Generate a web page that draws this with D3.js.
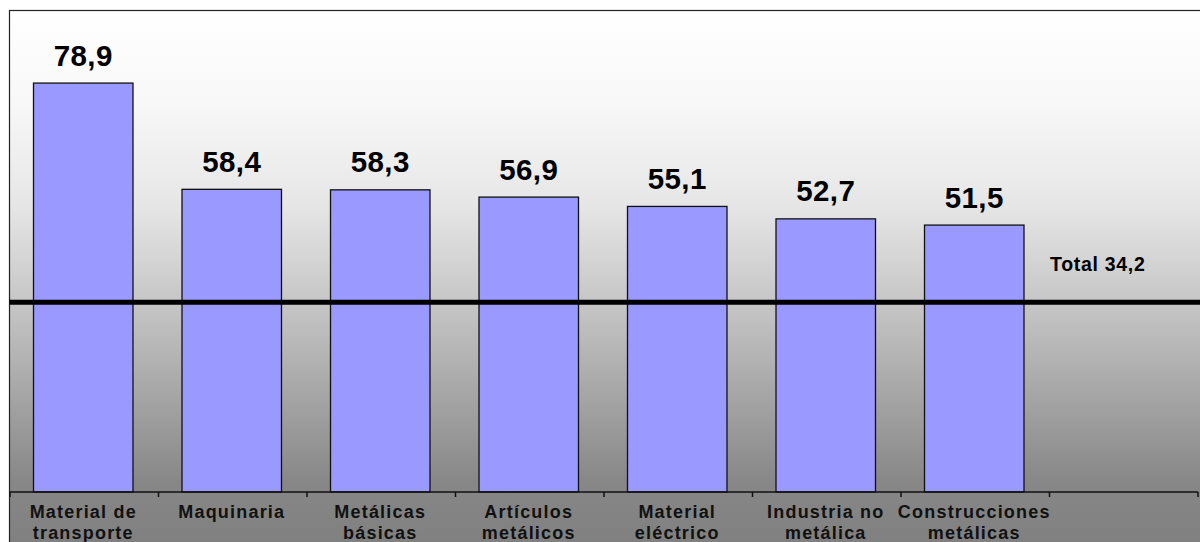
<!DOCTYPE html>
<html>
<head>
<meta charset="utf-8">
<script src="https://cdn.jsdelivr.net/npm/d3@7"></script>
<style>
  html, body { margin: 0; padding: 0; background: #fff; }
  svg { display: block; font-family: "Liberation Sans", Arial, sans-serif; }
</style>
</head>
<body>
<div id="chart"></div>
<script>
// Data
const categories = [
  "Material de\ntransporte",
  "Maquinaria",
  "Metálicas\nbásicas",
  "Artículos\nmetálicos",
  "Material\neléctrico",
  "Industria no\nmetálica",
  "Construcciones\nmetálicas"
];
const values = [78.9, 58.4, 58.3, 56.9, 55.1, 52.7, 51.5];
const totalValue = 34.2;
// level at which the reference draws the total line
const totalLineLevel = 36.6;
const totalLabel = "Total " + String(totalValue).replace(".", ",");

const width = 1200, height = 542;
const plot = { left: 10, top: 10, right: 1198, bottom: 492 };

const svg = d3.select('#chart')
  .append('svg')
  .attr('width', width)
  .attr('height', height);

// background gradient
const grad = svg.append('defs').append('linearGradient')
  .attr('id', 'bg')
  .attr('x1', 0).attr('y1', 0).attr('x2', 0).attr('y2', 1);
[[0, '#ffffff'], [0.17, '#f8f8f8'], [0.36, '#e6e6e6'], [0.55, '#c4c4c4'],
 [0.87, '#878787'], [1, '#7f7f7f']].forEach(s => {
  grad.append('stop').attr('offset', s[0]).attr('stop-color', s[1]);
});

svg.append('rect')
  .attr('x', 9.5).attr('y', 10.5)
  .attr('width', width).attr('height', height)
  .attr('fill', 'url(#bg)')
  .attr('stroke', '#222')
  .attr('stroke-width', 1.2);

// scales: one extra empty slot at the right holds the total label
const slots = categories.concat(['__total']);
const x = d3.scaleBand()
  .domain(slots)
  .range([plot.left, plot.right])
  .paddingInner(0)
  .paddingOuter(0);

const y = d3.scaleLinear()
  .domain([0, 93])
  .range([plot.bottom, plot.top]);

const barPad = 0.165;
const barW = x.bandwidth() * (1 - 2 * barPad);

// bars
svg.selectAll('rect.bar')
  .data(values)
  .enter()
  .append('rect')
  .attr('class', 'bar')
  .attr('x', (d, i) => x(categories[i]) + x.bandwidth() * barPad - 1)
  .attr('y', d => y(d))
  .attr('width', barW)
  .attr('height', d => y(0) - y(d))
  .attr('fill', '#9999ff')
  .attr('stroke', '#111')
  .attr('stroke-width', 1.3);

// value labels
svg.selectAll('text.val')
  .data(values)
  .enter()
  .append('text')
  .attr('class', 'val')
  .attr('x', (d, i) => x(categories[i]) + x.bandwidth() / 2 - 1)
  .attr('y', d => y(d) - 17.5)
  .attr('text-anchor', 'middle')
  .attr('font-size', 29.5)
  .attr('font-weight', 'bold')
  .attr('letter-spacing', 0.4)
  .attr('fill', '#000')
  .text(d => String(d).replace('.', ','));

// total line
svg.append('line')
  .attr('x1', 9.5)
  .attr('x2', width)
  .attr('y1', y(totalLineLevel))
  .attr('y2', y(totalLineLevel))
  .attr('stroke', '#000')
  .attr('stroke-width', 5);

svg.append('text')
  .attr('x', x('__total') + x.bandwidth() / 2 - 26)
  .attr('y', y(totalLineLevel) - 31)
  .attr('text-anchor', 'middle')
  .attr('font-size', 19.5)
  .attr('font-weight', 'bold')
  .attr('letter-spacing', 0.7)
  .attr('fill', '#000')
  .text(totalLabel);

// x axis: baseline with ticks on the band boundaries
const axis = svg.append('g').attr('class', 'x-axis');
axis.append('line')
  .attr('x1', plot.left).attr('x2', plot.right)
  .attr('y1', y(0)).attr('y2', y(0))
  .attr('stroke', '#111')
  .attr('stroke-width', 1.5);

const boundaries = slots.map(s => x(s)).concat([plot.right]);
axis.selectAll('line.tick')
  .data(boundaries)
  .enter()
  .append('line')
  .attr('class', 'tick')
  .attr('x1', d => d).attr('x2', d => d)
  .attr('y1', y(0)).attr('y2', y(0) + 5)
  .attr('stroke', '#111')
  .attr('stroke-width', 1.5);

// category labels
const labels = axis.selectAll('text.cat')
  .data(categories)
  .enter()
  .append('text')
  .attr('class', 'cat')
  .attr('text-anchor', 'middle')
  .attr('font-size', 18)
  .attr('font-weight', 'bold')
  .attr('letter-spacing', 1.2)
  .attr('fill', '#111');

labels.each(function (d) {
  const cx = x(d) + x.bandwidth() / 2 - 1;
  d3.select(this).selectAll('tspan')
    .data(d.split('\n'))
    .enter()
    .append('tspan')
    .attr('x', cx)
    .attr('y', (t, j) => y(0) + 25.5 + j * 21)
    .text(t => t);
});
</script>
</body>
</html>
